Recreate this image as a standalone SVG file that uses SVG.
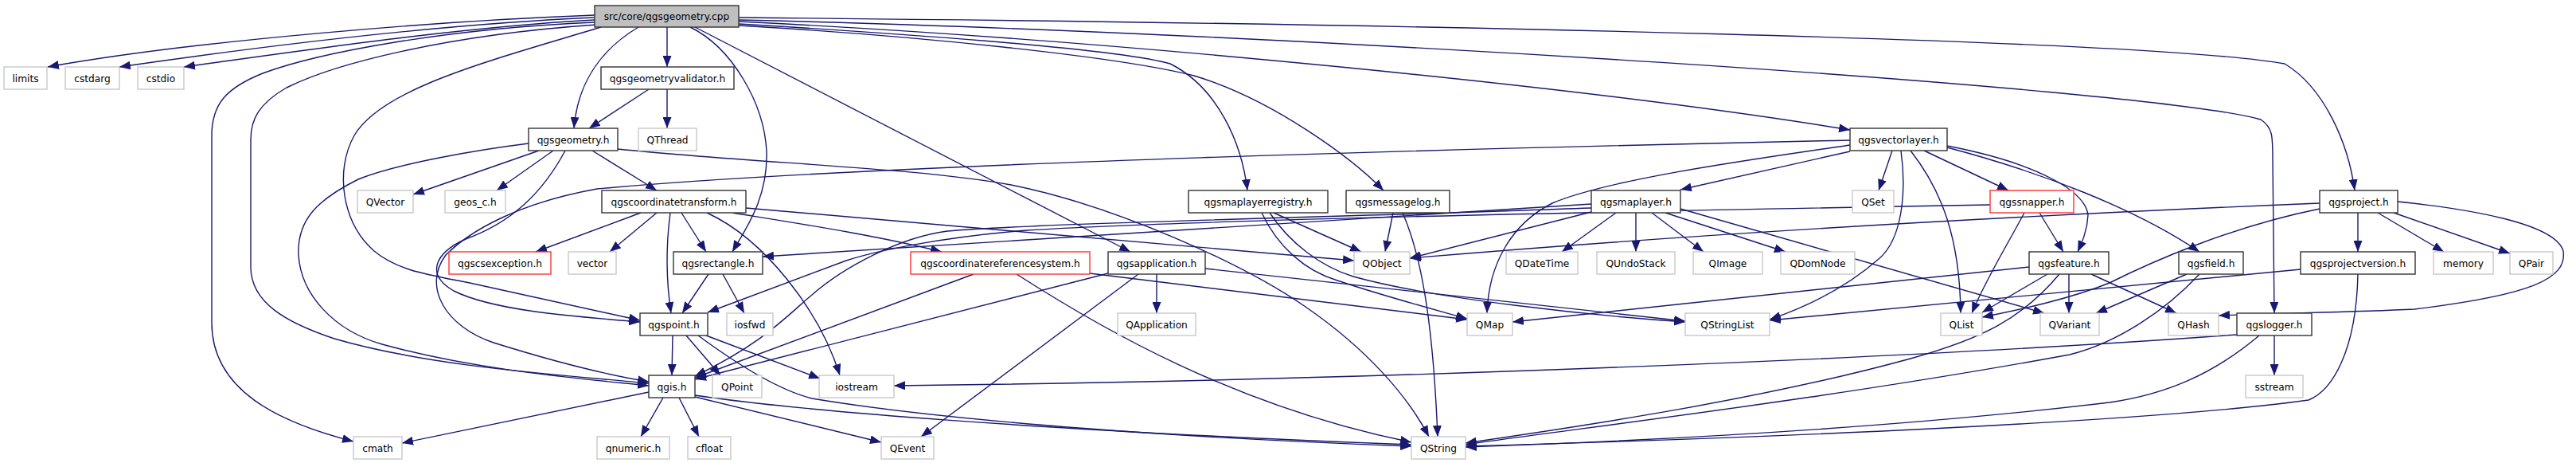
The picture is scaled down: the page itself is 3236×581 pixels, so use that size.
<svg xmlns="http://www.w3.org/2000/svg" width="3236" height="581" viewBox="0 0 3236 581">
<style>
.n rect{fill:#fff;stroke:#333;stroke-width:1.4}
.n.g rect{stroke:#c8c8c8}
.n.r rect{stroke:#ff3333}
.n.root rect{fill:#bfbfbf}
.n text{font-family:"DejaVu Sans",sans-serif;font-size:12.2px;fill:#000;text-anchor:middle}
#edges path{fill:none;stroke:#191970;stroke-width:1.4;marker-end:url(#ah)}
</style>
<defs>
<marker id="ah" markerUnits="userSpaceOnUse" markerWidth="14" markerHeight="11" refX="14" refY="5.5" orient="auto">
<path d="M0,0 L14,5.5 L0,11 z" fill="#191970"/>
</marker>
</defs>
<rect width="3236" height="581" fill="#fff"/>
<g id="edges">
<path d="M747,19 C560,26 250,50 60,84"/>
<path d="M747,22 C560,30 330,58 150,84"/>
<path d="M747,25 C580,34 390,62 231,84"/>
<path d="M747,28 C560,36 400,66 330,92 C285,110 266,130 266,170 L266,405 C266,490 350,530 444,554"/>
<path d="M749,31 C560,44 420,80 360,110 C325,130 315,150 315,175 L315,335 C315,380 360,405 420,425 C540,460 700,470 815,481"/>
<path d="M755,34 C620,75 480,110 445,170 C420,215 430,280 470,315 C500,340 540,345 590,355 L804,402"/>
<path d="M664,180 C600,188 500,205 450,225 C400,250 373,275 375,320 C378,370 420,415 480,432 C600,465 730,475 815,484"/>
<path d="M802,34 C750,65 725,110 721,161"/>
<path d="M838,34 L838,84"/>
<path d="M815,112 L740,161"/>
<path d="M838,112 L838,161"/>
<path d="M677,189 L519,244"/>
<path d="M695,189 L624,239"/>
<path d="M744,189 L825,239"/>
<path d="M710,189 C680,245 640,280 585,300 C545,318 535,345 570,365 C620,390 720,397 804,404"/>
<path d="M776,187 C950,205 1150,210 1270,232 C1400,258 1560,330 1640,385 C1720,440 1770,500 1795,548"/>
<path d="M805,267 L673,316"/>
<path d="M825,267 L766,316"/>
<path d="M842,267 C835,320 838,360 843,393"/>
<path d="M856,267 L887,316"/>
<path d="M888,267 C960,300 1030,390 1055,471"/>
<path d="M920,267 C1000,280 1100,295 1183,316"/>
<path d="M937,261 L1701,327"/>
<path d="M890,344 L857,393"/>
<path d="M908,344 L935,393"/>
<path d="M845,421 L844,471"/>
<path d="M862,421 L905,471"/>
<path d="M887,421 L1030,475"/>
<path d="M877,421 C930,460 980,490 1020,500 C1200,530 1500,550 1773,560"/>
<path d="M833,499 L805,548"/>
<path d="M853,499 L878,548"/>
<path d="M815,492 L505,556"/>
<path d="M873,498 L1107,555"/>
<path d="M873,496 C1000,515 1300,540 1773,558"/>
<path d="M1223,344 L873,474"/>
<path d="M1277,344 C1380,410 1550,510 1773,555"/>
<path d="M1369,343 L1843,401"/>
<path d="M1453,344 L1453,393"/>
<path d="M1430,344 L1157,548"/>
<path d="M1392,343 L873,476"/>
<path d="M1514,337 L2117,403"/>
<path d="M1600,267 L1710,316"/>
<path d="M1585,267 C1605,310 1640,340 1680,352 C1740,372 1800,388 1843,400"/>
<path d="M1595,267 C1620,305 1660,335 1700,347 C1800,375 2000,396 2117,404"/>
<path d="M1750,267 L1740,316"/>
<path d="M1762,267 C1785,320 1800,400 1806,548"/>
<path d="M1999,266 L1771,324"/>
<path d="M1999,256 L958,322"/>
<path d="M1999,261 C1700,272 1300,280 1190,290 C1130,298 1060,335 1020,370 C990,395 960,430 873,472"/>
<path d="M2030,267 L1962,316"/>
<path d="M2055,267 L2055,316"/>
<path d="M2075,267 L2140,316"/>
<path d="M2092,267 L2243,316"/>
<path d="M2111,262 L2568,393"/>
<path d="M2377,189 L2360,239"/>
<path d="M2388,189 C2395,240 2390,300 2360,325 C2320,360 2270,385 2223,401"/>
<path d="M2400,189 C2440,240 2462,300 2463,393"/>
<path d="M2417,189 L2523,239"/>
<path d="M2446,183 C2560,205 2620,240 2623,270 C2622,290 2615,305 2610,316"/>
<path d="M2446,185 C2560,215 2680,260 2763,316"/>
<path d="M2324,182 C2200,200 2020,225 1950,255 C1900,280 1870,330 1868,393"/>
<path d="M2324,190 L2111,238"/>
<path d="M2324,176 C1900,185 1100,205 750,237 C650,255 590,290 560,320 C530,360 560,410 620,430 C700,455 760,470 815,479"/>
<path d="M2500,257 C2000,266 1500,276 1290,289 C1180,298 1100,315 1063,327 L889,392"/>
<path d="M2543,267 C2520,310 2495,350 2477,393"/>
<path d="M2562,267 L2592,316"/>
<path d="M2549,335 L1900,404"/>
<path d="M2572,344 L2490,392"/>
<path d="M2587,344 C2540,400 2490,425 2400,450 C2200,505 1950,540 1841,556"/>
<path d="M2599,344 L2599,393"/>
<path d="M2627,344 L2734,393"/>
<path d="M2747,344 L2633,393"/>
<path d="M2763,344 C2720,390 2660,430 2600,445 C2300,500 2000,535 1841,558"/>
<path d="M2914,255 C2500,272 2100,296 1771,324"/>
<path d="M2914,262 C2800,285 2700,330 2650,355 C2600,375 2540,388 2490,398"/>
<path d="M2962,267 L2962,316"/>
<path d="M2987,267 L3070,316"/>
<path d="M3007,267 L3153,318"/>
<path d="M3012,253 C3100,262 3210,280 3220,315 C3225,350 3180,370 3033,388 C2950,392 2850,393 2787,396"/>
<path d="M2890,338 L2223,402"/>
<path d="M2962,344 C2960,440 2930,490 2900,502 C2700,530 2200,550 1841,560"/>
<path d="M2810,420 C2400,450 1700,478 1123,484"/>
<path d="M2838,421 C2780,470 2720,495 2650,505 C2400,535 2100,552 1841,561"/>
<path d="M2857,421 L2857,471"/>
<path d="M928,30 C1100,40 1400,60 1470,80 C1530,110 1560,180 1567,239"/>
<path d="M928,32 C1150,45 1400,70 1500,95 C1600,125 1700,200 1738,239"/>
<path d="M928,27 C1400,50 2000,110 2324,163"/>
<path d="M928,25 C1600,40 2700,110 2840,150 C2855,160 2855,170 2855,200 L2857,393"/>
<path d="M928,22 C1800,30 2700,50 2870,80 C2920,110 2950,180 2958,239"/>
<path d="M867,34 C920,60 960,130 963,190 C965,250 935,290 920,316"/>
<path d="M873,34 L1420,316"/>
</g>
<g id="n_root" class="n root"><rect x="747" y="7" width="181" height="27"/><text x="837.5" y="25">src/core/qgsgeometry.cpp</text></g>
<g id="n_limits" class="n g"><rect x="5" y="84" width="54" height="28"/><text x="32" y="102.5">limits</text></g>
<g id="n_cstdarg" class="n g"><rect x="82" y="84" width="68" height="28"/><text x="116" y="102.5">cstdarg</text></g>
<g id="n_cstdio" class="n g"><rect x="173" y="84" width="58" height="28"/><text x="202" y="102.5">cstdio</text></g>
<g id="n_validator" class="n"><rect x="755" y="84" width="167" height="28"/><text x="838.5" y="102.5">qgsgeometryvalidator.h</text></g>
<g id="n_qgsgeometry" class="n"><rect x="664" y="161" width="112" height="28"/><text x="720" y="179.5">qgsgeometry.h</text></g>
<g id="n_QThread" class="n g"><rect x="802" y="161" width="73" height="28"/><text x="838.5" y="179.5">QThread</text></g>
<g id="n_vectorlayer" class="n"><rect x="2324" y="161" width="122" height="28"/><text x="2385" y="179.5">qgsvectorlayer.h</text></g>
<g id="n_QVector" class="n g"><rect x="449" y="239" width="70" height="28"/><text x="484" y="257.5">QVector</text></g>
<g id="n_geos" class="n g"><rect x="559" y="239" width="76" height="28"/><text x="597" y="257.5">geos_c.h</text></g>
<g id="n_transform" class="n"><rect x="756" y="239" width="181" height="28"/><text x="846.5" y="257.5">qgscoordinatetransform.h</text></g>
<g id="n_registry" class="n"><rect x="1493" y="239" width="175" height="28"/><text x="1580.5" y="257.5">qgsmaplayerregistry.h</text></g>
<g id="n_messagelog" class="n"><rect x="1691" y="239" width="130" height="28"/><text x="1756" y="257.5">qgsmessagelog.h</text></g>
<g id="n_maplayer" class="n"><rect x="1999" y="239" width="112" height="28"/><text x="2055" y="257.5">qgsmaplayer.h</text></g>
<g id="n_QSet" class="n g"><rect x="2327" y="239" width="52" height="28"/><text x="2353" y="257.5">QSet</text></g>
<g id="n_snapper" class="n r"><rect x="2500" y="239" width="105" height="28"/><text x="2552.5" y="257.5">qgssnapper.h</text></g>
<g id="n_project" class="n"><rect x="2914" y="239" width="98" height="28"/><text x="2963" y="257.5">qgsproject.h</text></g>
<g id="n_csexception" class="n r"><rect x="564" y="316" width="128" height="28"/><text x="628" y="334.5">qgscsexception.h</text></g>
<g id="n_vector" class="n g"><rect x="714" y="316" width="60" height="28"/><text x="744" y="334.5">vector</text></g>
<g id="n_rectangle" class="n"><rect x="846" y="316" width="112" height="28"/><text x="902" y="334.5">qgsrectangle.h</text></g>
<g id="n_crs" class="n r"><rect x="1144" y="316" width="225" height="28"/><text x="1256.5" y="334.5">qgscoordinatereferencesystem.h</text></g>
<g id="n_application" class="n"><rect x="1392" y="316" width="122" height="28"/><text x="1453" y="334.5">qgsapplication.h</text></g>
<g id="n_QObject" class="n g"><rect x="1701" y="316" width="70" height="28"/><text x="1736" y="334.5">QObject</text></g>
<g id="n_QDateTime" class="n g"><rect x="1892" y="316" width="90" height="28"/><text x="1937" y="334.5">QDateTime</text></g>
<g id="n_QUndoStack" class="n g"><rect x="2006" y="316" width="98" height="28"/><text x="2055" y="334.5">QUndoStack</text></g>
<g id="n_QImage" class="n g"><rect x="2127" y="316" width="87" height="28"/><text x="2170.5" y="334.5">QImage</text></g>
<g id="n_QDomNode" class="n g"><rect x="2237" y="316" width="93" height="28"/><text x="2283.5" y="334.5">QDomNode</text></g>
<g id="n_feature" class="n"><rect x="2549" y="316" width="100" height="28"/><text x="2599" y="334.5">qgsfeature.h</text></g>
<g id="n_field" class="n"><rect x="2737" y="316" width="81" height="28"/><text x="2777.5" y="334.5">qgsfield.h</text></g>
<g id="n_projectversion" class="n"><rect x="2890" y="316" width="144" height="28"/><text x="2962" y="334.5">qgsprojectversion.h</text></g>
<g id="n_memory" class="n g"><rect x="3057" y="316" width="75" height="28"/><text x="3094.5" y="334.5">memory</text></g>
<g id="n_QPair" class="n g"><rect x="3153" y="316" width="54" height="28"/><text x="3180" y="334.5">QPair</text></g>
<g id="n_qgspoint" class="n"><rect x="804" y="393" width="85" height="28"/><text x="846.5" y="411.5">qgspoint.h</text></g>
<g id="n_iosfwd" class="n g"><rect x="913" y="393" width="58" height="28"/><text x="942" y="411.5">iosfwd</text></g>
<g id="n_QApplication" class="n g"><rect x="1404" y="393" width="98" height="28"/><text x="1453" y="411.5">QApplication</text></g>
<g id="n_QMap" class="n g"><rect x="1843" y="393" width="57" height="28"/><text x="1871.5" y="411.5">QMap</text></g>
<g id="n_QStringList" class="n g"><rect x="2117" y="393" width="106" height="28"/><text x="2170" y="411.5">QStringList</text></g>
<g id="n_QList" class="n g"><rect x="2438" y="393" width="52" height="28"/><text x="2464" y="411.5">QList</text></g>
<g id="n_QVariant" class="n g"><rect x="2563" y="393" width="74" height="28"/><text x="2600" y="411.5">QVariant</text></g>
<g id="n_QHash" class="n g"><rect x="2724" y="393" width="63" height="28"/><text x="2755.5" y="411.5">QHash</text></g>
<g id="n_logger" class="n"><rect x="2810" y="393" width="94" height="28"/><text x="2857" y="411.5">qgslogger.h</text></g>
<g id="n_qgis" class="n"><rect x="815" y="471" width="58" height="28"/><text x="844" y="489.5">qgis.h</text></g>
<g id="n_QPoint" class="n g"><rect x="895" y="471" width="62" height="28"/><text x="926" y="489.5">QPoint</text></g>
<g id="n_iostream" class="n g"><rect x="1029" y="471" width="94" height="28"/><text x="1076" y="489.5">iostream</text></g>
<g id="n_sstream" class="n g"><rect x="2821" y="471" width="72" height="28"/><text x="2857" y="489.5">sstream</text></g>
<g id="n_cmath" class="n g"><rect x="444" y="548" width="61" height="28"/><text x="474.5" y="566.5">cmath</text></g>
<g id="n_qnumeric" class="n g"><rect x="750" y="548" width="91" height="28"/><text x="795.5" y="566.5">qnumeric.h</text></g>
<g id="n_cfloat" class="n g"><rect x="864" y="548" width="54" height="28"/><text x="891" y="566.5">cfloat</text></g>
<g id="n_QEvent" class="n g"><rect x="1107" y="548" width="66" height="28"/><text x="1140" y="566.5">QEvent</text></g>
<g id="n_QString" class="n g"><rect x="1773" y="548" width="68" height="28"/><text x="1807" y="566.5">QString</text></g>
</svg>
